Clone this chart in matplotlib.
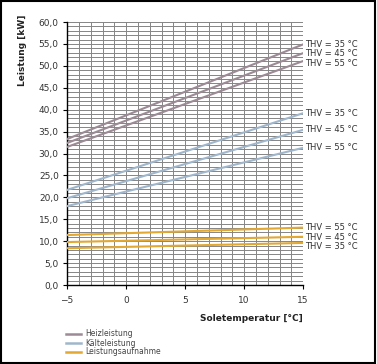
import numpy as np
import matplotlib.pyplot as plt
from matplotlib.ticker import MultipleLocator, FuncFormatter
from matplotlib.patches import Rectangle

# Soletemperatur (°C)
temp = [-5, 15]

# Heizleistung kW für THV 35/45/55 °C
heiz_35 = [33.3, 54.9]
heiz_45 = [32.4, 52.9]
heiz_55 = [31.5, 51.1]

# Kälteleistung kW
kaelte_35 = [21.7, 39.2]
kaelte_45 = [19.8, 35.4]
kaelte_55 = [18.0, 31.3]

# Leistungsaufnahme kW
auf_35 = [8.4, 9.6]
auf_45 = [9.8, 11.0]
auf_55 = [11.4, 13.1]

c_heiz = '#9c8a94'
c_kaelte = '#a0b6cc'
c_auf = '#e2a832'

fig = plt.figure(figsize=(3.77, 3.64), dpi=100)
ax = fig.add_axes([0.178, 0.217, 0.626, 0.7225])

for y in (heiz_35, heiz_45, heiz_55):
    ax.plot(temp, y, color=c_heiz, lw=1.5, zorder=3)
for y in (kaelte_35, kaelte_45, kaelte_55):
    ax.plot(temp, y, color=c_kaelte, lw=1.5, zorder=3)
for y in (auf_35, auf_45, auf_55):
    ax.plot(temp, y, color=c_auf, lw=1.5, zorder=3)

ax.set_xlim(-5, 15)
ax.set_ylim(0, 60)
ax.xaxis.set_major_locator(MultipleLocator(5))
ax.xaxis.set_minor_locator(MultipleLocator(1))
ax.yaxis.set_major_locator(MultipleLocator(5))
ax.yaxis.set_minor_locator(MultipleLocator(1))
ax.yaxis.set_major_formatter(FuncFormatter(lambda v, p: f'{v:.1f}'.replace('.', ',')))
ax.grid(which='both', color='#858585', lw=0.7, zorder=1)
ax.set_axisbelow(True)
for s in ('top', 'right'):
    ax.spines[s].set_visible(False)
for s in ('left', 'bottom'):
    ax.spines[s].set_color('black')
    ax.spines[s].set_linewidth(1.0)
ax.tick_params(which='major', length=3, width=0.8, labelsize=6.5, labelcolor='#333333', pad=3)
ax.tick_params(which='minor', length=0)
ax.tick_params(axis='x', pad=5)

ax.set_xlabel('Soletemperatur [°C]', fontsize=6.5, fontweight='bold', color='#222222')
ax.xaxis.set_label_coords(1.0, -0.11)
ax.xaxis.label.set_horizontalalignment('right')
ax.set_ylabel('Leistung [kW]', fontsize=6.5, fontweight='bold', color='#222222')
ax.yaxis.set_label_coords(-0.17, 1.03)
ax.yaxis.label.set_verticalalignment('bottom')
ax.yaxis.label.set_horizontalalignment('right')

# Beschriftung am rechten Rand
labels = [(heiz_35[1], 'THV = 35 °C'), (heiz_45[1], 'THV = 45 °C'), (heiz_55[1] - 0.6, 'THV = 55 °C'),
          (kaelte_35[1], 'THV = 35 °C'), (kaelte_45[1], 'THV = 45 °C'), (kaelte_55[1], 'THV = 55 °C'),
          (auf_55[1], 'THV = 55 °C'), (auf_45[1] - 0.2, 'THV = 45 °C'), (auf_35[1] - 0.8, 'THV = 35 °C')]
for yv, txt in labels:
    ax.text(15.2, yv, txt, fontsize=6, color='#333333', va='center', ha='left', clip_on=False)

# Legende
legend_items = [('Heizleistung', c_heiz), ('Kälteleistung', c_kaelte), ('Leistungsaufnahme', c_auf)]
for i, (name, col) in enumerate(legend_items):
    yf = 1 - (334 + i * 9) / 364
    fig.add_artist(plt.Line2D([66 / 377, 81 / 377], [yf, yf], color=col, lw=1.8))
    fig.text(85 / 377, yf, name, fontsize=5.5, color='#444444', va='center', ha='left')

fig.add_artist(Rectangle((0.002, 0.002), 0.994, 0.994, transform=fig.transFigure,
                         fill=False, edgecolor='black', lw=1.5))

plt.savefig('out.png', dpi=100)
